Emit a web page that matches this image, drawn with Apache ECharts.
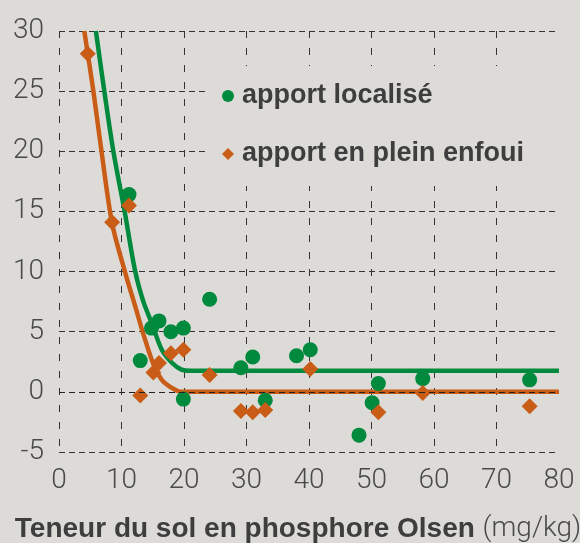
<!DOCTYPE html>
<html>
<head>
<meta charset="utf-8">
<script src="https://cdn.jsdelivr.net/npm/echarts@6/dist/echarts.min.js"></script>
<style>
  html, body { margin: 0; padding: 0; background: #dcdbd7; }
  #chart { width: 580px; height: 543px; }
</style>
</head>
<body>
<div id="chart"></div>
<script>
// points mesurés : [teneur P Olsen, valeur]
var localisePoints = [
  [11.2, 16.4], [13.0, 2.6], [14.8, 5.3], [16.0, 5.9], [17.9, 5.0], [19.9, 5.3],
  [19.9, -0.6], [24.1, 7.7], [29.1, 2.0], [31.0, 2.9], [33.0, -0.7], [38.0, 3.0],
  [40.2, 3.5], [48.0, -3.6], [50.1, -0.9], [51.1, 0.7], [58.2, 1.1], [75.3, 1.0]
]
var enfouiPoints = [
  [4.6, 28.1], [8.5, 14.1], [11.2, 15.5], [13.0, -0.3], [15.1, 1.6], [16.0, 2.4],
  [17.9, 3.2], [19.9, 3.5], [24.1, 1.4], [29.1, -1.6], [31.0, -1.7], [33.0, -1.5],
  [40.2, 1.9], [51.1, -1.7], [58.2, -0.1], [75.3, -1.2]
]
// courbes ajustées
var localiseCurve = [
  [5.9, 30], [7.25, 25], [8.7, 20], [10.5, 15], [12.2, 10], [13.5, 7.5],
  [14.85, 5.7], [16.45, 3.5], [18.1, 2.4], [19.6, 1.85], [21, 1.75], [80, 1.75]
]
var enfouiCurve = [
  [4.05, 30], [5.5, 25], [6.8, 20], [8.5, 14], [10.6, 9.9],
  [12.2, 7.1], [13.5, 4.8], [15.1, 2.3], [16.45, 1.0], [18.05, 0.33], [19.6, 0], [80, 0]
]
var legendNames = ['apport localisé', 'apport en plein enfoui']

var green = '#008a3e'
var orange = '#c95c16'
var bg = '#dcdbd7'

var myChart = echarts.init(document.getElementById('chart'))
var option = {
  backgroundColor: bg,
  animation: false,
  textStyle: { fontFamily: 'Liberation Sans' },
  grid: { left: 59, right: 21, top: 31, bottom: 91, outerBoundsMode: 'none' },
  legend: {
    data: [
      { name: legendNames[0], icon: 'circle' },
      { name: legendNames[1], icon: 'diamond' }
    ],
    orient: 'vertical',
    left: 207,
    top: 66,
    padding: [15, 40, 17, 15],
    itemGap: 28,
    itemWidth: 12,
    itemHeight: 12,
    backgroundColor: bg,
    textStyle: {
      fontFamily: 'Liberation Sans',
      fontWeight: 'bold',
      fontSize: 27,
      lineHeight: 30,
      color: '#3e3e3e',
      padding: [0, 0, 0, 3]
    }
  },
  xAxis: {
    type: 'value',
    min: 0,
    max: 80,
    interval: 10,
    axisLine: { show: false },
    axisTick: { show: false },
    axisLabel: {
      fontFamily: 'Roboto',
      fontWeight: 300,
      fontSize: 28,
      color: '#4a4a4a',
      margin: 15
    },
    splitLine: {
      show: true,
      showMaxLine: false,
      lineStyle: { color: '#333', width: 1, type: [7, 10] }
    },
    name: '{b|Teneur du sol en phosphore Olsen }{l|(mg/kg)}',
    nameLocation: 'middle',
    nameGap: 63,
    nameTextStyle: {
      padding: [0, 22, 0, 0],
      rich: {
        b: { fontFamily: 'Liberation Sans', fontWeight: 'bold', fontSize: 28, color: '#3e3e3e' },
        l: { fontFamily: 'Roboto', fontWeight: 300, fontSize: 28, color: '#4a4a4a' }
      }
    }
  },
  yAxis: {
    type: 'value',
    min: -5,
    max: 30,
    interval: 5,
    axisLine: { show: false },
    axisTick: { show: false },
    axisLabel: {
      fontFamily: 'Roboto',
      fontWeight: 300,
      fontSize: 28,
      color: '#4a4a4a',
      margin: 15
    },
    splitLine: {
      show: true,
      lineStyle: { color: '#333', width: 1, type: [6, 4] }
    }
  },
  series: [
    {
      name: 'courbe localisé',
      type: 'line',
      data: localiseCurve,
      smooth: 0.3,
      showSymbol: false,
      lineStyle: { color: green, width: 4.5 },
      z: 2
    },
    {
      name: 'courbe enfoui',
      type: 'line',
      data: enfouiCurve,
      smooth: 0.3,
      showSymbol: false,
      lineStyle: { color: orange, width: 4.5 },
      z: 2,
      markLine: {
        silent: true,
        symbol: 'none',
        label: { show: false },
        lineStyle: { color: '#222', width: 1, type: [6, 4] },
        data: [{ yAxis: 0 }]
      }
    },
    {
      name: legendNames[0],
      type: 'scatter',
      data: localisePoints,
      symbol: 'circle',
      symbolSize: 15,
      itemStyle: { color: green, opacity: 1 },
      z: 3
    },
    {
      name: legendNames[1],
      type: 'scatter',
      data: enfouiPoints,
      symbol: 'diamond',
      symbolSize: 16,
      itemStyle: { color: orange, opacity: 1 },
      z: 3
    }
  ]
}
myChart.setOption(option)
</script>
</body>
</html>
